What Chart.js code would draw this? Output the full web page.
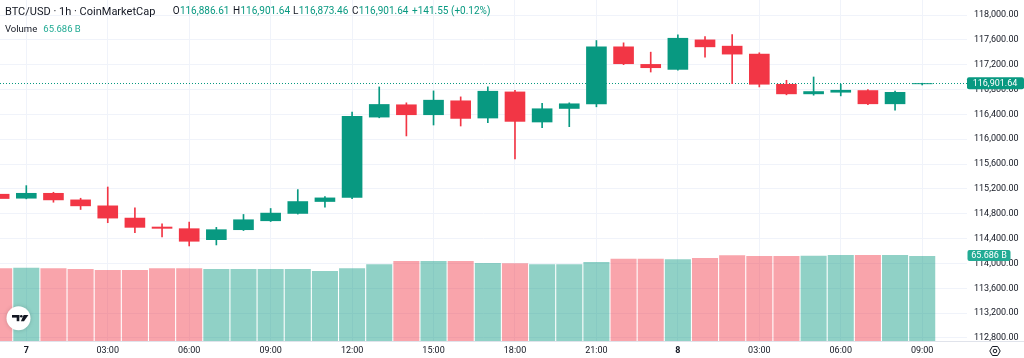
<!DOCTYPE html>
<html><head><meta charset="utf-8">
<script src="https://cdn.jsdelivr.net/npm/chart.js@4"></script>
<style>
html,body{margin:0;padding:0;background:#fff;}
#wrap{position:relative;width:1024px;height:358px;overflow:hidden;}
#c{position:absolute;left:0;top:0;}
</style></head><body>
<div id="wrap"><canvas id="c" width="1024" height="358"></canvas></div>
<script>
// ---- data ----
const candleHours = [-1,0,1,2,3,4,5,6,7,8,9,10,11,12,13,14,15,16,17,18,19,20,21,22,23,24,25,26,27,28,29,30,31,32,33];
const opens  = [115120,115045,115135,115029,114933,114736,114592,114565,114378,114538,114682,114800,114992,115056,116351,116560,116389,116624,116336,116767,116272,116490,116565,117493,117210,117119,117605,117504,117376,116890,116725,116751,116789,116565,116886.61];
const highs  = [115130,115253,115146,115050,115231,114896,114640,114666,114581,114789,114885,115189,115075,116437,116842,116586,116778,116682,116842,116789,116576,116586,117589,117552,117402,117679,117653,117685,117392,116949,117002,116885,116800,116775,116901.64];
const lows   = [115030,115040,114986,114869,114656,114496,114426,114282,114298,114530,114675,114795,114906,115045,116345,116053,116229,116213,116266,115685,116186,116202,116522,117200,117082,117110,117322,116896,116842,116715,116709,116698,116555,116469,116873.46];
const closes = [115040,115135,115018,114922,114725,114576,114560,114352,114549,114709,114816,115002,115061,116373,116565,116389,116634,116330,116778,116282,116496,116576,117493,117210,117146,117631,117482,117365,116880,116725,116773,116794,116565,116760.09,116901.64];
const volumes = [56.2,56.6,56.2,55.6,54.9,54.9,56.2,56.2,55.6,55.6,55.6,55.6,54.1,56.2,59.3,61.8,61.8,61.8,60.3,60.0,59.3,59.3,61.0,63.6,63.6,63.1,64.1,66.2,65.7,65.7,65.9,66.5,66.5,66.5,65.686];
const priceTicks = [112800,113200,113600,114000,114400,114800,115200,115600,116000,116400,116800,117200,117600,118000];
const timeTickPos = [0,3,6,9,12,15,18,21,24,27,30,33];
const timeTickLabels = ['7','03:00','06:00','09:00','12:00','15:00','18:00','21:00','8','03:00','06:00','09:00'];
const boldTimeLabels = ['7','8'];
const titleText = 'BTC/USD · 1h · CoinMarketCap';
const volumeTitle = 'Volume';

// ---- styling ----
const UP = '#089981', DOWN = '#F23645', VOLBADGE = '#22ab94', TXT = '#131722';
const UPV = 'rgba(8,153,129,0.45)', DOWNV = 'rgba(242,54,69,0.45)';
const FONT = 'Roboto';
const last = closes.length - 1;
const fmt2 = v => v.toLocaleString('en-US',{minimumFractionDigits:2,maximumFractionDigits:2});
const chg = closes[last] - closes[last-1];
const pct = chg / closes[last-1] * 100;
const chgText = (chg>=0?'+':'') + fmt2(chg);
const pctText = '(' + (pct>=0?'+':'') + pct.toFixed(2) + '%)';
const volText = volumes[last].toFixed(3) + ' B';

const isUp = closes.map((c,i)=>c>=opens[i]);
const candleColors = isUp.map(u=>u?UP:DOWN);
const volColors = isUp.map(u=>u?UPV:DOWNV);
const bodyData = candleHours.map((h,i)=>({x:h, y:[opens[i], closes[i]]}));
const wickData = candleHours.map((h,i)=>({x:h, y:[lows[i], highs[i]]}));
const volData  = candleHours.map((h,i)=>({x:h, y:volumes[i]}));

function drawHeader(ctx){
  ctx.textAlign = 'left'; ctx.textBaseline = 'alphabetic';
  ctx.font = '11px ' + FONT; ctx.fillStyle = TXT;
  ctx.fillText(titleText, 5, 15);
  ctx.font = '10px ' + FONT;
  const groups = [['O', opens[last], 172.7], ['H', highs[last], 233], ['L', lows[last], 293], ['C', closes[last], 352]];
  for (const [k, v, x] of groups){
    ctx.fillStyle = TXT; ctx.fillText(k, x, 14);
    const w = ctx.measureText(k).width;
    ctx.fillStyle = UP; ctx.fillText(fmt2(v), x + w + 0.3, 14);
  }
  ctx.fillStyle = UP;
  const cw = ctx.measureText(chgText).width;
  ctx.fillText(chgText, 412, 14);
  ctx.fillText(pctText, Math.max(451, 412 + cw + 2.5), 14);
  ctx.font = '9.5px ' + FONT; ctx.fillStyle = TXT;
  ctx.fillText(volumeTitle, 5, 31.7);
  ctx.fillStyle = VOLBADGE; ctx.fillText(volText, 43.3, 31.7);
}

const overlay = {
  id:'overlay',
  beforeDatasetsDraw(chart){
    const {ctx, chartArea} = chart;
    const y = Math.round(chart.scales.y.getPixelForValue(closes[last])) + 0.5;
    ctx.save();
    ctx.strokeStyle = UP; ctx.lineWidth = 1; ctx.setLineDash([1,2]);
    ctx.beginPath(); ctx.moveTo(chartArea.left, y); ctx.lineTo(chartArea.right, y); ctx.stroke();
    ctx.restore();
  },
  afterDraw(chart){
    const {ctx, chartArea} = chart;
    ctx.save();
    // bottom border
    ctx.strokeStyle = '#e0e3eb'; ctx.lineWidth = 1;
    ctx.beginPath(); ctx.moveTo(0, chartArea.bottom + 0.5); ctx.lineTo(1024, chartArea.bottom + 0.5); ctx.stroke();
    // price badge
    const py = chart.scales.y.getPixelForValue(closes[last]);
    ctx.fillStyle = UP;
    ctx.beginPath(); ctx.roundRect(chartArea.right, py-6, 1024-chartArea.right, 12, 2); ctx.fill();
    ctx.fillStyle = '#fff'; ctx.font = '9px '+FONT; ctx.textAlign='center'; ctx.textBaseline='middle';
    ctx.fillText(fmt2(closes[last]), chartArea.right + 28, py + 0.5);
    // volume badge
    const vy = chart.scales.yv.getPixelForValue(volumes[last]);
    ctx.fillStyle = VOLBADGE;
    ctx.beginPath(); ctx.roundRect(chartArea.right + 0.5, vy-6, 43, 11, 2); ctx.fill();
    ctx.fillStyle = '#fff';
    ctx.fillText(volText, chartArea.right + 22, vy - 0.3);
    // gear icon
    const gx = 995, gy = 351, gr = 5.2;
    ctx.strokeStyle = TXT; ctx.lineWidth = 1;
    ctx.beginPath();
    for (let k=0;k<6;k++){ const a = Math.PI/3*k; const X = gx + gr*Math.cos(a), Y = gy + gr*Math.sin(a); k?ctx.lineTo(X,Y):ctx.moveTo(X,Y); }
    ctx.closePath(); ctx.stroke();
    ctx.beginPath(); ctx.arc(gx, gy, 1.8, 0, Math.PI*2); ctx.stroke();
    // TV logo
    ctx.shadowColor = 'rgba(0,0,0,0.18)'; ctx.shadowBlur = 4;
    ctx.fillStyle = '#fff'; ctx.beginPath(); ctx.arc(18.5, 318.3, 12, 0, Math.PI*2); ctx.fill();
    ctx.shadowColor = 'transparent'; ctx.shadowBlur = 0;
    ctx.fillStyle = TXT;
    ctx.fillRect(12, 315, 7.3, 2.6);
    ctx.fillRect(16.7, 315, 2.6, 6.2);
    ctx.beginPath(); ctx.arc(21.3, 316.3, 1.3, 0, Math.PI*2); ctx.fill();
    ctx.beginPath(); ctx.moveTo(23.6,315); ctx.lineTo(28.4,315); ctx.lineTo(24.0,321.2); ctx.lineTo(20.9,321.2); ctx.closePath(); ctx.fill();
    // header
    drawHeader(ctx);
    ctx.restore();
  }
};

new Chart(document.getElementById('c'), {
  type:'bar',
  data:{ datasets:[
    {data:volData, yAxisID:'yv', backgroundColor:volColors, borderWidth:0, barPercentage:0.96, categoryPercentage:1, grouped:false, order:3},
    {data:wickData, yAxisID:'y', backgroundColor:candleColors, borderWidth:0, barThickness:1, grouped:false, order:2},
    {data:bodyData, yAxisID:'y', backgroundColor:candleColors, borderWidth:0, barPercentage:0.76, categoryPercentage:1, grouped:false, minBarLength:1, order:1}
  ]},
  options:{
    responsive:false, animation:false, devicePixelRatio:1,
    layout:{padding:0},
    plugins:{legend:{display:false}, tooltip:{enabled:false}},
    scales:{
      x:{type:'linear', min:-0.969, max:34.65, offset:false, bounds:'data',
         grid:{color:'#f0f3fa', drawTicks:false, offset:false}, border:{display:false},
         afterBuildTicks: s => { s.ticks = timeTickPos.map(v=>({value:v})); },
         afterFit: s => { s.height = 17; s.paddingLeft = 0; s.paddingRight = 0; },
         ticks:{autoSkip:false, maxRotation:0, padding:4, color:TXT,
           font: c => ({family:FONT, size:9, weight: boldTimeLabels.includes(timeTickLabels[c.index]) ? 'bold' : 'normal'}),
           callback: (v,i) => timeTickLabels[timeTickPos.indexOf(v)]}
      },
      y:{position:'right', min:112751.7, max:118241.5, bounds:'data',
         grid:{color:'#f0f3fa', drawTicks:false}, border:{display:false},
         afterBuildTicks: s => { s.ticks = priceTicks.map(v=>({value:v})); },
         afterFit: s => { s.width = 57; s.paddingTop = 0; s.paddingBottom = 0; },
         ticks:{padding:7, color:TXT, font:{family:FONT, size:9}, callback: v => fmt2(v)}
      },
      yv:{display:false, min:0, max:263.5}
    }
  },
  plugins:[overlay]
});
</script>
</body></html>
